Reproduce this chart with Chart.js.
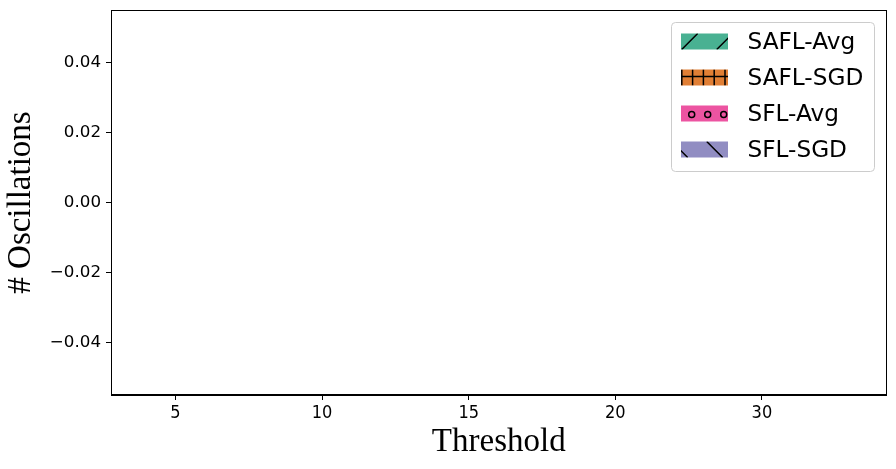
<!DOCTYPE html>
<html>
<head>
<meta charset="utf-8">
<script src="https://cdn.jsdelivr.net/npm/chart.js@4.4.1/dist/chart.umd.min.js"></script>
<style>
  body { margin: 0; background: #fff; }
  #wrap { width: 896px; height: 469px; }
</style>
</head>
<body>
<div id="wrap"><canvas id="chart" width="896" height="469"></canvas></div>
<script>
// thresholds on the x axis
const thresholds = ['5', '10', '15', '20', '30'];
// number of oscillations per method (all zero in the figure)
const saflAvg = [0, 0, 0, 0, 0];
const saflSgd = [0, 0, 0, 0, 0];
const sflAvg = [0, 0, 0, 0, 0];
const sflSgd = [0, 0, 0, 0, 0];
const yTicks = [-0.04, -0.02, 0, 0.02, 0.04];

const series = [
    {label: 'SAFL-Avg', data: saflAvg, color: 'rgba(27,158,119,0.8)', hatch: '/'},
    {label: 'SAFL-SGD', data: saflSgd, color: 'rgba(217,95,2,0.8)', hatch: '+'},
    {label: 'SFL-Avg', data: sflAvg, color: 'rgba(231,41,138,0.8)', hatch: 'o'},
    {label: 'SFL-SGD', data: sflSgd, color: 'rgba(117,112,179,0.8)', hatch: '\\'},
];

function drawHatch(ctx, kind, x, y, w, h) {
    ctx.save();
    ctx.beginPath();
    ctx.rect(x, y, w, h);
    ctx.clip();
    ctx.strokeStyle = '#000';
    ctx.lineWidth = 1.5;
    ctx.beginPath();
    if (kind === '/') {
        for (let x0 = x + 0.7 - 70; x0 < x + w + 35; x0 += 35) {
            ctx.moveTo(x0, y + h);
            ctx.lineTo(x0 + h, y);
        }
    } else if (kind === '\\') {
        for (let x0 = x - 9.3 - 35; x0 < x + w + 35; x0 += 35) {
            ctx.moveTo(x0, y);
            ctx.lineTo(x0 + h, y + h);
        }
    } else if (kind === '+') {
        for (let x0 = x + 0.8; x0 < x + w + 1; x0 += 10.8) {
            ctx.moveTo(x0, y);
            ctx.lineTo(x0, y + h);
        }
        ctx.moveTo(x, y + h / 2 - 1);
        ctx.lineTo(x + w, y + h / 2 - 1);
    }
    ctx.stroke();
    if (kind === 'o') {
        for (let x0 = x + 10.7; x0 < x + w + 5; x0 += 16) {
            ctx.beginPath();
            ctx.arc(x0, y + h / 2 + 1, 3, 0, Math.PI * 2);
            ctx.stroke();
        }
    }
    ctx.restore();
}

const frameAndLegend = {
    id: 'frameAndLegend',
    afterDraw(chart) {
        const ctx = chart.ctx;
        const a = chart.chartArea;
        ctx.save();
        ctx.strokeStyle = '#000';
        ctx.lineWidth = 1;
        ctx.strokeRect(Math.round(a.left) + 0.5, Math.round(a.top) + 0.5,
            Math.round(a.right - a.left) - 1, Math.round(a.bottom - a.top) - 1);

        // legend box
        const lx = 671.5, ly = 22.5, lw = 203, lh = 149;
        ctx.beginPath();
        ctx.roundRect(lx, ly, lw, lh, 4);
        ctx.fillStyle = 'rgba(255,255,255,0.8)';
        ctx.fill();
        ctx.strokeStyle = '#cccccc';
        ctx.stroke();

        ctx.font = '23.2px "DejaVu Sans"';
        ctx.textBaseline = 'middle';
        ctx.textAlign = 'left';
        series.forEach((s, i) => {
            const cy = 41.5 + i * 36;
            ctx.fillStyle = '#fff';
            ctx.fillRect(681, cy - 8, 47, 16);
            ctx.fillStyle = s.color;
            ctx.fillRect(681, cy - 8, 47, 16);
            drawHatch(ctx, s.hatch, 681, cy - 8, 47, 16);
            ctx.fillStyle = '#000';
            ctx.fillText(s.label, 747.5, cy + 1);
        });
        ctx.restore();
    }
};

new Chart(document.getElementById('chart'), {
    type: 'bar',
    data: {
        datasets: series.map(s => ({
            label: s.label,
            data: s.data.map((v, i) => ({x: i, y: v})),
            backgroundColor: s.color,
            borderWidth: 0,
        }))
    },
    options: {
        responsive: false,
        animation: false,
        layout: {padding: {top: 10, right: 9.5, left: 0, bottom: 0}},
        plugins: {legend: {display: false}, tooltip: {enabled: false}},
        scales: {
            x: {
                type: 'linear',
                min: -0.44,
                max: 4.85,
                offset: false,
                afterBuildTicks: s => { s.ticks = thresholds.map((t, i) => ({value: i})); },
                afterFit: s => { s.height = 74; s.paddingLeft = 0; s.paddingRight = 0; },
                grid: {display: true, offset: false, drawOnChartArea: false, drawTicks: true, tickLength: 5, color: '#000'},
                border: {display: true, color: '#000'},
                ticks: {
                    color: '#000',
                    padding: 3,
                    maxRotation: 0,
                    font: {family: '"Liberation Sans Narrow", "DejaVu Sans Condensed", sans-serif', size: 18},
                    callback: v => thresholds[v]
                },
                title: {
                    display: true,
                    text: 'Threshold',
                    color: '#000',
                    font: {family: '"Liberation Serif", serif', size: 33, lineHeight: 1},
                    padding: {top: 0, bottom: 10.5}
                }
            },
            y: {
                min: -0.055,
                max: 0.055,
                afterBuildTicks: s => { s.ticks = yTicks.map(v => ({value: v})); },
                afterFit: s => { s.width = 111; s.paddingTop = 0; s.paddingBottom = 0; },
                grid: {display: true, drawOnChartArea: false, drawTicks: true, tickLength: 5, color: '#000'},
                border: {display: true, color: '#000'},
                ticks: {
                    color: '#000',
                    padding: 5,
                    font: {family: '"DejaVu Sans", sans-serif', size: 16.7},
                    callback: v => v.toFixed(2).replace('-', '\u2212')
                },
                title: {
                    display: true,
                    text: '# Oscillations',
                    color: '#000',
                    font: {family: '"Liberation Serif", serif', size: 33, lineHeight: 1},
                    padding: {top: 5, bottom: 0}
                }
            }
        }
    },
    plugins: [frameAndLegend]
});
</script>
</body>
</html>
